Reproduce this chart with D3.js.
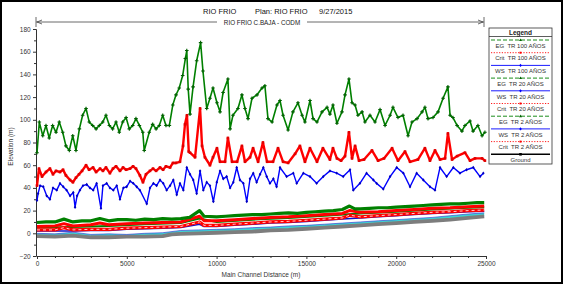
<!DOCTYPE html>
<html>
<head>
<meta charset="utf-8">
<script src="https://cdn.jsdelivr.net/npm/d3@7/dist/d3.min.js"></script>
<style>
  body { margin: 0; background: #fff; }
  svg { display: block; font-family: "Liberation Sans", Arial, sans-serif; }
</style>
</head>
<body>
<svg id="chart" width="564" height="285"></svg>
<script>
// ejes / textos
const xTicks = [0, 5000, 10000, 15000, 20000, 25000]
const yTicks = [-20, 0, 20, 40, 60, 80, 100, 120, 140, 160, 180]
const titleParts = ['RIO FRIO', 'Plan: RIO FRIO', '9/27/2015']
const reachName = 'RIO FRIO C.BAJA - CODM'
const legendLabels = ['EG  TR 100 AÑOS', 'Crit  TR 100 AÑOS', 'WS  TR 100 AÑOS', 'EG  TR 20 AÑOS', 'WS  TR 20 AÑOS',
    'Crit  TR 20 AÑOS', 'EG  TR 2 AÑOS', 'WS  TR 2 AÑOS', 'Crit  TR 2 AÑOS', 'Ground']

// perfiles [distancia (m), elevación (m)]
const egTr100 = [[0,71],[130,98],[320,86],[500,95],[680,84],[870,95],[1060,89],[1240,98],[1430,89],[1610,77],[1800,73],[1990,86],[2170,73],[2360,92],[2540,104],[2730,110],[2910,98],[3100,95],[3290,92],[3470,95],[3660,98],[3840,104],[4030,95],[4210,92],[4400,98],[4580,89],[4770,98],[4960,102],[5140,92],[5330,95],[5510,101],[5700,95],[5890,89],[5970,73],[6250,89],[6440,96],[6630,92],[6810,95],[7000,104],[7180,95],[7370,95],[7560,113],[7740,122],[7920,128],[8110,139],[8260,154],[8340,161],[8420,127],[8520,105],[8690,129],[8890,152],[9110,168],[9240,143],[9450,110],[9630,119],[9800,128],[10020,115],[10190,107],[10360,124],[10630,136],[10750,92],[10910,104],[11190,110],[11410,122],[11580,110],[11750,101],[11970,119],[12250,122],[12530,128],[12690,130],[12860,101],[13090,98],[13360,113],[13530,117],[13700,104],[13980,91],[14250,107],[14530,115],[14760,104],[14920,98],[15200,117],[15370,101],[15590,98],[15870,107],[16150,111],[16310,105],[16480,113],[16700,97],[16980,107],[17150,122],[17370,136],[17540,115],[17710,113],[17870,104],[18100,107],[18260,98],[18540,104],[18820,98],[19100,109],[19380,95],[19660,104],[19820,111],[20100,102],[20380,104],[20660,86],[20880,98],[21160,101],[21440,107],[21600,111],[21770,101],[22050,102],[22330,107],[22610,119],[22880,129],[23000,104],[23160,102],[23390,95],[23660,90],[23830,95],[24110,99],[24280,90],[24550,95],[24780,86],[24940,89]]

const critTr100 = [[0,42],[110,57],[280,50],[500,54],[720,57],[890,52],[1060,55],[1280,54],[1450,56],[1610,51],[1840,47],[2000,45],[2170,49],[2340,52],[2510,55],[2730,60],[2900,56],[3120,58],[3290,54],[3510,57],[3670,55],[3840,58],[4060,53],[4230,57],[4400,59],[4620,55],[4790,58],[4960,56],[5180,57],[5350,59],[5510,57],[5730,51],[5900,45],[6070,52],[6290,55],[6460,57],[6630,55],[6850,58],[7020,56],[7180,59],[7410,58],[7570,62],[7740,62],[7960,63],[8130,77],[8240,96],[8350,104],[8450,72],[8520,71],[8800,67],[9080,110],[9190,77],[9350,67],[9630,60],[9800,67],[10020,75],[10190,63],[10470,63],[10630,84],[10860,63],[11140,63],[11410,77],[11580,63],[11860,67],[12030,75],[12310,63],[12580,80],[12810,63],[13140,63],[13420,75],[13700,63],[13980,62],[14370,70],[14640,77],[14920,63],[15200,75],[15590,63],[15920,75],[16310,65],[16480,75],[16700,66],[16930,64],[17150,68],[17370,89],[17540,66],[17710,77],[17930,64],[18210,65],[18650,73],[18990,64],[19320,66],[19770,75],[20100,64],[20490,72],[20770,63],[21210,65],[21600,75],[21880,64],[22160,73],[22440,65],[22720,66],[22880,88],[23110,65],[23390,68],[23830,71],[24110,64],[24390,66],[24780,66],[24940,64]]

const wsTr100 = [[0,29],[60,35],[170,42],[350,41],[540,33],[720,30],[890,40],[1100,38],[1280,44],[1460,41],[1650,38],[1840,33],[2020,36],[2120,23],[2230,33],[2390,38],[2560,42],[2770,43],[2950,40],[3130,38],[3320,44],[3560,22],[3670,42],[3880,44],[4060,40],[4250,38],[4440,42],[4620,30],[4810,40],[4990,41],[5180,46],[5360,44],[5550,41],[5730,38],[6110,26],[6290,40],[6480,44],[6660,42],[6850,47],[7030,44],[7220,38],[7410,42],[7590,47],[7780,34],[7960,44],[8150,38],[8340,58],[8520,52],[8700,47],[8890,35],[9080,55],[9260,38],[9450,45],[9630,42],[9820,28],[10010,45],[10190,55],[10370,48],[10560,50],[10750,40],[10930,45],[11120,58],[11300,47],[11490,44],[11680,28],[11860,48],[12040,53],[12230,45],[12420,52],[12600,58],[12790,50],[12970,44],[13160,48],[13340,41],[13530,58],[13900,50],[14270,53],[14460,44],[14830,53],[15200,50],[15570,44],[15940,50],[16310,55],[16690,53],[17050,50],[17430,56],[17610,38],[17980,44],[18350,53],[18730,47],[18910,44],[19280,39],[19660,50],[20030,58],[20400,53],[20770,41],[21140,53],[21510,47],[21880,41],[22160,38],[22440,58],[22810,50],[23180,58],[23550,53],[23920,56],[24290,58],[24670,50],[24850,53]]

const egTr20 = [[0,9.5],[500,10],[1000,10],[1500,12.5],[2000,10],[2500,11],[3000,11],[3500,13],[4000,11],[4500,12],[5000,12],[5500,11.5],[6000,12.5],[6500,12],[7000,13],[7500,12.5],[8000,13],[8500,14],[9050,20],[9300,15],[10000,14.5],[10500,15],[11000,15.5],[11500,16],[12000,16.5],[12500,16.5],[13000,17],[13500,17.5],[14000,18],[14500,17.5],[15000,18.5],[15500,19],[16000,19.5],[16500,20],[17000,21],[17400,24],[17700,21.5],[18000,21.5],[18500,22],[19000,22.5],[19500,22.5],[20000,23],[20500,23.5],[21000,24],[21500,24.5],[22000,25],[22500,25.5],[23000,26],[23500,26],[24000,26.5],[24500,27],[24900,27]]
const wsTr20 = [[0,2],[1000,2],[2000,2],[3000,2.5],[4000,2.5],[5000,3.5],[6000,4],[7000,4.5],[8000,5],[9050,8],[9300,6],[10000,6],[11000,7],[12000,8],[13000,9],[14000,9.5],[15000,10.5],[16000,11.5],[17000,12.5],[18000,13.5],[19000,14.5],[20000,15.5],[21000,16.5],[22000,17.5],[23000,18],[24000,19],[24900,19.5]]
const critTr20 = [[0,6],[1000,6.5],[1500,8.5],[2000,6.5],[3000,7.5],[3500,9],[4000,7.5],[5000,8.5],[6000,9],[7000,9.5],[8000,10],[9050,15],[9300,11],[10000,11],[11000,12],[12000,13],[13000,14],[14000,14.5],[15000,15.5],[16000,16.5],[17000,17.5],[17400,20],[18000,18.5],[19000,19],[20000,20],[21000,21],[22000,22],[23000,22.5],[24000,23.5],[24900,24]]
const egTr2 = [[0,5],[2000,5.5],[4000,6.5],[6000,8],[8000,9],[9050,13],[10000,10],[12000,12],[14000,13.5],[16000,15.5],[18000,17.5],[20000,19],[22000,21],[24000,22.5],[24900,23]]
const wsTr2 = [[0,0],[1000,-0.5],[2000,1],[3000,-1],[4000,-0.5],[5000,-1],[6000,0],[7000,0.5],[8000,2.5],[9000,3],[10000,3.5],[11000,4],[12000,5],[13000,5.5],[14000,6.5],[15000,7],[16000,8],[17000,9],[18000,10],[19000,11],[20000,12],[21000,13],[22000,14],[23000,15.5],[24000,17],[24900,18]]
const critTr2 = [[0,3],[1000,3],[1500,5],[2000,3],[3000,3.5],[4000,3.5],[5000,4.5],[6000,5],[7000,5.5],[8000,6],[9050,10],[9300,7],[10000,7],[11000,8],[12000,9],[13000,10],[14000,10.5],[15000,11.5],[16000,12.5],[17000,13.5],[17400,16],[18000,14.5],[19000,15.5],[20000,16.5],[21000,17.5],[22000,18.5],[23000,19],[24000,20],[24900,20.5]]
const ground = [[0,-2.5],[1000,-3],[2000,-2],[3000,-3.5],[4000,-3.5],[5000,-3],[6000,-3],[7000,-2.5],[7500,-1],[8000,-0.5],[9000,0],[10000,0.5],[11000,1],[12000,1.5],[13000,2.5],[14000,3],[15000,4],[16000,5],[17000,6],[18000,7],[19000,8],[20000,9],[21000,10],[22000,11],[23000,12],[24000,13.5],[24900,15]]

const svg = d3.select('#chart')
const x = d3.scaleLinear().domain([0, 25000]).range([37, 486])
const y = d3.scaleLinear().domain([-20, 180]).range([256, 29])
const line = d3.line().x(d => x(d[0])).y(d => y(d[1]))

// marcadores
const mkPlus = 'M-1.8,0H1.8M0,-1.8V1.8'
const mkSquare = 'M-1.3,-1.3H1.3V1.3H-1.3Z'
const mkDiamond = 'M0,-1.7L1.3,0L0,1.7L-1.3,0Z'

const GREEN = '#008000', RED = '#ff0000', BLUE = '#0000ff'

// marco exterior
svg.append('rect').attr('x', 1).attr('y', 1).attr('width', 561).attr('height', 282)
    .attr('fill', '#fff').attr('stroke', '#000').attr('stroke-width', 2)

// título
const title = svg.append('text').attr('y', 14).attr('font-size', 7.5).attr('fill', '#111')
title.append('tspan').attr('x', 203).text(titleParts[0])
title.append('tspan').attr('x', 255).text(titleParts[1])
title.append('tspan').attr('x', 319).text(titleParts[2])

// tramo del río
const reach = svg.append('g').attr('stroke', '#444').attr('stroke-width', 0.8)
reach.append('line').attr('x1', x(0) - 1).attr('x2', 484).attr('y1', 22).attr('y2', 22)
reach.append('line').attr('x1', x(0) - 1).attr('x2', x(0) - 1).attr('y1', 17).attr('y2', 27)
reach.append('line').attr('x1', 484).attr('x2', 484).attr('y1', 17).attr('y2', 27)
reach.append('path').attr('d', `M${x(0) + 5},20L${x(0)},22L${x(0) + 5},24`).attr('fill', 'none')
reach.append('path').attr('d', 'M478,20L483,22L478,24').attr('fill', 'none')
svg.append('rect').attr('x', 217).attr('y', 18).attr('width', 90).attr('height', 8).attr('fill', '#fff')
svg.append('text').attr('x', 262).attr('y', 24.5).attr('text-anchor', 'middle')
    .attr('font-size', 6.3).attr('fill', '#222').text(reachName)

// ejes
const fmt = d3.format('d')
const axes = svg.append('g').attr('class', 'axes')
const yAxisG = axes.append('g').attr('transform', `translate(${x(0) - 1},0)`)
    .call(d3.axisLeft(y).tickValues(yTicks).tickFormat(fmt).tickSize(3).tickSizeOuter(0))
axes.append('g').attr('transform', `translate(${x(0) - 1},0)`)
    .call(d3.axisLeft(y).tickValues(d3.range(-10, 180, 20)).tickSize(2).tickFormat('').tickSizeOuter(0))
const xAxisG = axes.append('g').attr('transform', `translate(0,${y(-20)})`)
    .call(d3.axisBottom(x).tickValues(xTicks).tickFormat(fmt).tickSize(3).tickSizeOuter(0))
axes.append('g').attr('transform', `translate(0,${y(-20)})`)
    .call(d3.axisBottom(x).tickValues(d3.range(1000, 25000, 1000).filter(v => v % 5000)).tickSize(2).tickFormat('').tickSizeOuter(0))
axes.selectAll('.domain').attr('stroke', '#333')
axes.selectAll('.tick line').attr('stroke', '#333')
axes.selectAll('text').attr('font-size', 6.5).attr('fill', '#333')
    .attr('font-family', '"Liberation Sans", Arial, sans-serif')
yAxisG.selectAll('text').attr('dx', '0.1em')
xAxisG.selectAll('text').attr('dy', '0.6em')

svg.append('text').attr('transform', `translate(13,${(y(-20) + y(180)) / 2 + 4}) rotate(-90)`)
    .attr('text-anchor', 'middle').attr('font-size', 6.5).attr('fill', '#333').text('Elevation (m)')
svg.append('text').attr('x', 261).attr('y', 277).attr('text-anchor', 'middle')
    .attr('font-size', 6.5).attr('fill', '#333').text('Main Channel Distance (m)')

// series
const plot = svg.append('g').attr('class', 'plot')

function drawSeries(data, o) {
    const p = plot.append('path').datum(data).attr('d', line).attr('fill', 'none')
        .attr('stroke', o.color).attr('stroke-width', o.width).attr('stroke-linejoin', 'round')
    if (o.dash) p.attr('stroke-dasharray', o.dash)
    if (o.marker) {
        plot.append('g').selectAll('path').data(data).join('path')
            .attr('transform', d => `translate(${x(d[0])},${y(d[1])})`)
            .attr('d', o.marker)
            .attr('fill', o.stroked ? 'none' : o.mcolor)
            .attr('stroke', o.stroked ? o.mcolor : 'none')
            .attr('stroke-width', 1.1)
    }
}

// agua (TR 2) sobre el terreno
const groundAt = d3.scaleLinear().domain(ground.map(g => g[0])).range(ground.map(g => g[1]))
plot.append('path').datum(wsTr2)
    .attr('d', d3.area().x(d => x(d[0])).y0(d => y(groundAt(d[0]))).y1(d => y(d[1])))
    .attr('fill', '#3fd3d3')
drawSeries(ground, { color: '#7d7d7d', width: 3.8 })
drawSeries(wsTr2, { color: '#2a2ad0', width: 0.6 })
drawSeries(egTr2, { color: GREEN, width: 2 })
drawSeries(wsTr20, { color: '#1010c8', width: 1.5 })
drawSeries(critTr2, { color: RED, width: 3.2 })
drawSeries(critTr2, { color: '#fff', width: 0.8, dash: '3,3' })
drawSeries(critTr20, { color: RED, width: 3 })
drawSeries(egTr20, { color: GREEN, width: 3.2 })

drawSeries(wsTr100, { color: BLUE, width: 1.4, marker: mkDiamond, mcolor: '#0000c0' })
drawSeries(critTr100, { color: RED, width: 2.4, marker: mkSquare, mcolor: '#e00000' })
drawSeries(egTr100, { color: GREEN, width: 1.6, marker: mkPlus, mcolor: '#006000', stroked: true })

// leyenda
const lg = svg.append('g').attr('class', 'legend')
const lx0 = 489, lx1 = 552, ly0 = 28, rowH = 12.7
lg.append('rect').attr('x', lx0).attr('y', ly0).attr('width', lx1 - lx0).attr('height', 136)
    .attr('fill', '#fff').attr('stroke', '#333').attr('stroke-width', 0.8)
lg.append('text').attr('x', (lx0 + lx1) / 2).attr('y', 34.5).attr('text-anchor', 'middle')
    .attr('font-size', 6.5).attr('font-weight', 'bold').attr('fill', '#222').text('Legend')
lg.append('line').attr('x1', lx0).attr('x2', lx1).attr('y1', 36.5).attr('y2', 36.5)
    .attr('stroke', '#333').attr('stroke-width', 0.8)

const legendStyle = label => {
    if (label.startsWith('EG')) return { color: GREEN, dash: '4,2', width: 0.9, marker: 'M0,-1.6L1.5,1L-1.5,1Z' }
    if (label.startsWith('Crit')) return { color: RED, dash: '1.2,1.5', width: 0.9, marker: 'M-1,-1H1V1H-1Z' }
    if (label.startsWith('WS')) return { color: BLUE, dash: null, width: 0.9, marker: 'M0,-1.6L1.3,0L0,1.6L-1.3,0Z' }
    return { color: '#000', dash: null, width: 1.6, marker: 'M-1.3,-1.3H1.3V1.3H-1.3Z' }
}

legendLabels.forEach((label, i) => {
    const st = legendStyle(label)
    const ry = 36.5 + i * rowH
    const ln = lg.append('line').attr('x1', lx0 + 2).attr('x2', lx1 - 2).attr('y1', ry + 3.5).attr('y2', ry + 3.5)
        .attr('stroke', st.color).attr('stroke-width', st.width)
    if (st.dash) ln.attr('stroke-dasharray', st.dash)
    lg.append('path').attr('transform', `translate(${(lx0 + lx1) / 2},${ry + 3.5})`)
        .attr('d', st.marker).attr('fill', st.color === GREEN ? '#006000' : st.color)
    lg.append('text').attr('x', (lx0 + lx1) / 2).attr('y', ry + 11.2).attr('text-anchor', 'middle')
        .attr('font-size', 6).attr('fill', '#333').attr('xml:space', 'preserve').text(label)
})
</script>
</body>
</html>
